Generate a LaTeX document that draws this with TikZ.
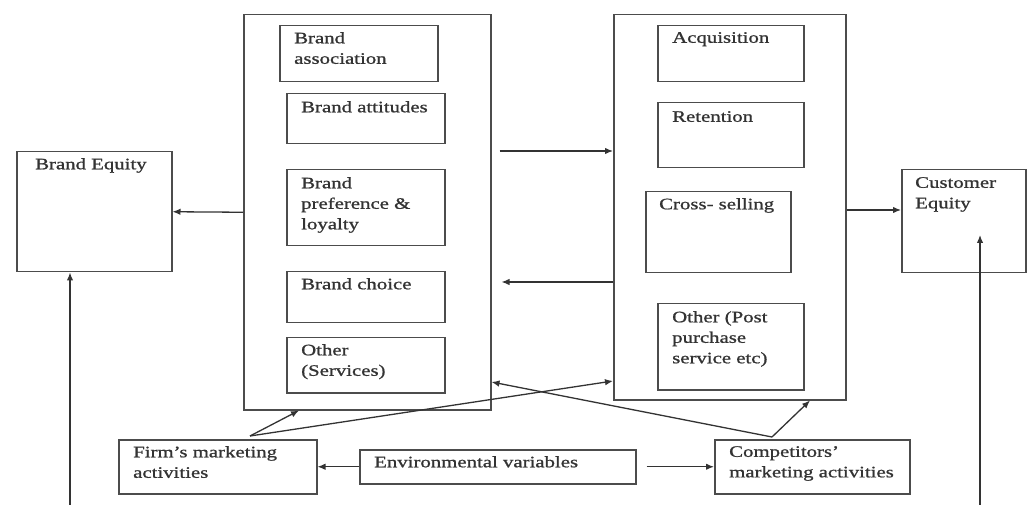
\documentclass[tikz,border=0pt]{standalone}
\usepackage{fontspec}
\setmainfont{Liberation Serif}[FakeStretch=1.3, FakeBold=1]
\usetikzlibrary{arrows.meta}

\begin{document}
\begin{tikzpicture}[x=1pt, y=-1pt,
  box/.style={draw=black!70, line width=1.5pt, anchor=north west, inner sep=0pt},
  txt/.style={anchor=north west, align=left, inner sep=0pt, text=black!80,
    font=\fontsize{16}{20.5}\selectfont},
  link/.style={draw=black!80, line width=1.3pt, ->, >={Latex[length=8pt,width=6.5pt]}}]
\useasboundingbox[fill=white] (0,0) rectangle (1029,505);

% brand side
\node[box, minimum width=155pt, minimum height=120pt] (beq) at (16,151) {};
\node[box, minimum width=247pt, minimum height=395pt] (lbig) at (243,14) {};
\node[box, minimum width=158pt, minimum height=56pt] (bas) at (279,25) {};
\node[box, minimum width=158pt, minimum height=50pt] (batt) at (286,93) {};
\node[box, minimum width=158pt, minimum height=76pt] (bpref) at (286,169) {};
\node[box, minimum width=158pt, minimum height=51pt] (bch) at (286,271) {};
\node[box, minimum width=158pt, minimum height=55pt] (both) at (286,337) {};

% customer side
\node[box, minimum width=232pt, minimum height=385pt] (rbig) at (613,14) {};
\node[box, minimum width=146pt, minimum height=56pt] (acq) at (657,25) {};
\node[box, minimum width=146pt, minimum height=65pt] (ret) at (657,102) {};
\node[box, minimum width=145pt, minimum height=81pt] (cross) at (645,191) {};
\node[box, minimum width=146pt, minimum height=86pt] (roth) at (657,303) {};
\node[box, minimum width=124pt, minimum height=103pt] (ceq) at (901,169) {};

% bottom row
\node[box, minimum width=198pt, minimum height=54pt] (firm) at (118,439) {};
\node[box, minimum width=276pt, minimum height=34pt] (env) at (359,449) {};
\node[box, minimum width=195pt, minimum height=54pt] (comp) at (714,439) {};

% texts
\node[txt] (beqT) at ([shift={(19,7)}]beq.north west) {Brand Equity};
\node[txt] (basT) at ([shift={(15,7)}]bas.north west) {Brand\\association};
\node[txt] (battT) at ([shift={(15,8)}]batt.north west) {Brand attitudes};
\node[txt] (bprefT) at ([shift={(15,8)}]bpref.north west) {Brand\\preference \&\\loyalty};
\node[txt] (bchT) at ([shift={(15,7)}]bch.north west) {Brand choice};
\node[txt] (bothT) at ([shift={(15,7)}]both.north west) {Other\\(Services)};
\node[txt] (acqT) at ([shift={(15,7)}]acq.north west) {Acquisition};
\node[txt] (retT) at ([shift={(15,9)}]ret.north west) {Retention};
\node[txt] (crossT) at ([shift={(14,7)}]cross.north west) {Cross- selling};
\node[txt] (rothT) at ([shift={(15,8)}]roth.north west) {Other (Post\\purchase\\service etc)};
\node[txt] (ceqT) at ([shift={(14,8)}]ceq.north west) {Customer\\Equity};
\node[txt] (firmT) at ([shift={(15,7)}]firm.north west) {Firm’s marketing\\activities};
\node[txt] (envT) at ([shift={(15,7)}]env.north west) {Environmental variables};
\node[txt] (compT) at ([shift={(15,7)}]comp.north west) {Competitors’\\marketing activities};

% loose ends
\coordinate (bfoot) at (70,505);
\coordinate (cfoot) at (980,505);
\coordinate (ctip) at (980,235);
\coordinate (fstart) at (250,436);
\coordinate (cstart) at (772,437);

% arrows
\draw[link] (lbig.west) -- (beq.east);
\draw[link] (rbig.east |- 0,210) -- (ceq.west |- 0,210);
\draw[link] ([xshift=8pt]lbig.east |- 0,151) -- (rbig.west |- 0,151);
\draw[link] (rbig.west |- 0,282) -- ([xshift=10pt]lbig.east |- 0,282);
\draw[link] (bfoot) -- (bfoot |- beq.south);
\draw[link] (cfoot) -- (ctip);
\draw[link] (env.west) -- (firm.east);
\draw[link] ([xshift=10pt]env.east) -- (comp.west);
\draw[link] (fstart) -- (lbig.south -| 299,0);
\draw[link] (fstart) -- (rbig.west |- 0,381);
\draw[link] (cstart) -- (lbig.east |- 0,382);
\draw[link] (cstart) -- (rbig.south -| 810,0);
\end{tikzpicture}
\end{document}
